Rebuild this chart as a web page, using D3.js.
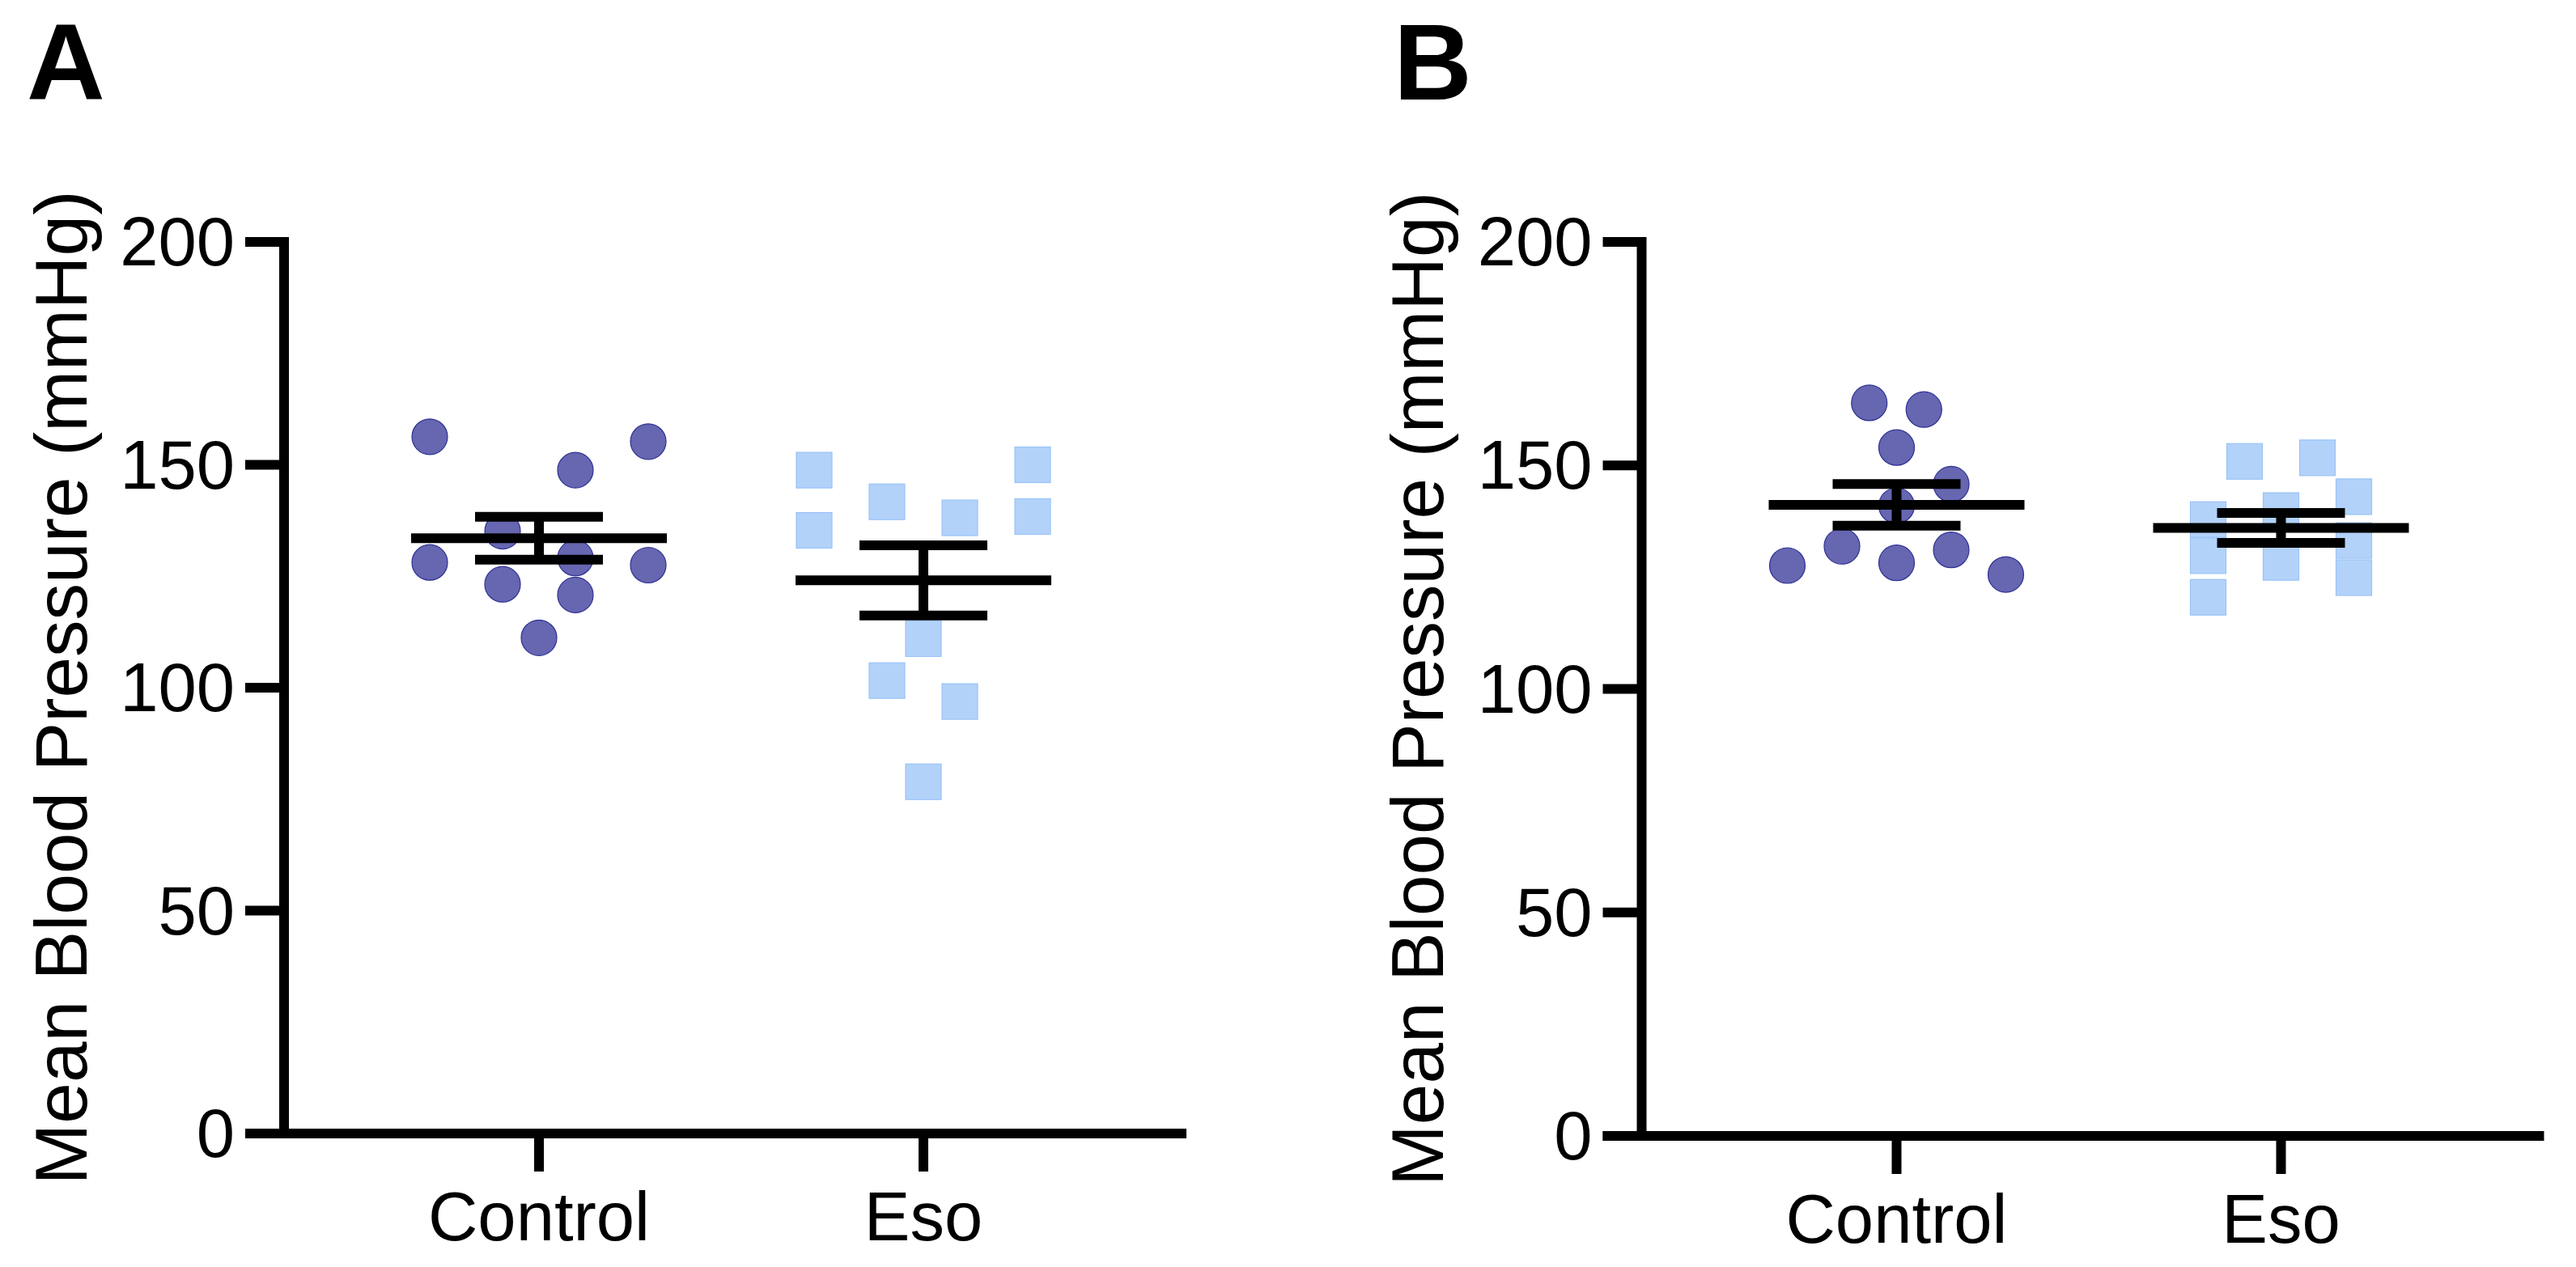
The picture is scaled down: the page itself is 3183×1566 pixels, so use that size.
<!DOCTYPE html>
<html>
<head>
<meta charset="utf-8">
<script src="https://cdn.jsdelivr.net/npm/d3@7"></script>
<style>
  html, body { margin: 0; padding: 0; background: #fff; }
  svg { display: block; }
  text { font-family: "Liberation Sans", Arial, sans-serif; fill: #000; }
</style>
</head>
<body>
<svg id="chart" width="3183" height="1566"></svg>
<script>
// ---------- data ----------
const categories = ["Control", "Eso"];
const yTickValues = [0, 50, 100, 150, 200];
const yTitle = "Mean Blood Pressure (mmHg)";
const panelLabels = ["A", "B"];

// Panel A
const controlA = [156.3, 155.2, 148.8, 135.1, 128.1, 129.1, 127.5, 123.2, 120.8, 111.2];
const controlA_col = [-3, 3, 1, -1, -3, 1, 3, -1, 1, 0];
const esoA = [148.8, 135.3, 141.7, 138.1, 150.0, 138.4, 111.0, 101.6, 96.9, 78.9];
const esoA_col = [-3, -3, -1, 1, 3, 3, 0, -1, 1, 0];

// Panel B
const controlB = [164.0, 162.5, 154.0, 145.8, 141.0, 131.9, 127.6, 128.2, 131.1, 125.6];
const controlB_col = [-0.75, 0.75, 0, 1.5, 0, -1.5, -3, 0, 1.5, 3];
const esoB = [150.9, 151.7, 143.0, 137.9, 139.9, 129.8, 133.2, 128.3, 124.9, 120.5];
const esoB_col = [-1, 1, 2, -2, 0, -2, 2, 0, 2, -2];

// ---------- layout / style ----------
const svg = d3.select("#chart");
svg.append("rect").attr("width", 3183).attr("height", 1566).attr("fill", "#fff");

const LW = 12;          // line width
const TICK = 48;        // tick length
const MARK = 44;        // marker size (diameter / side)
const circleFill = "#6666b1", circleStroke = "#2e3192";
const squareFill = "#b3d2f9", squareStroke = "#99c3f7";

const panels = [
  { label: panelLabels[0], labelX: 33, axisX: 351, yTop: 299, yBot: 1401, titleX: 107,
    groups: [ {vals: controlA, cols: controlA_col, shape: "circle"},
              {vals: esoA, cols: esoA_col, shape: "square"} ] },
  { label: panelLabels[1], labelX: 1722, axisX: 2028.5, yTop: 299, yBot: 1404, titleX: 1783,
    groups: [ {vals: controlB, cols: controlB_col, shape: "circle"},
              {vals: esoB, cols: esoB_col, shape: "square"} ] }
];

panels.forEach(p => {
  const g = svg.append("g");
  const y = d3.scaleLinear().domain([0, 200]).range([p.yBot, p.yTop]);
  const x = d3.scalePoint().domain(categories).range([p.axisX + 315, p.axisX + 790]);
  const xEnd = p.axisX + 1115;

  // panel letter
  g.append("text").attr("x", p.labelX).attr("y", 123)
    .attr("font-size", 134).attr("font-weight", "bold").text(p.label);

  // y axis title
  g.append("text")
    .attr("transform", `translate(${p.titleX},${(p.yTop + p.yBot) / 2}) rotate(-90)`)
    .attr("text-anchor", "middle").attr("font-size", 91).text(yTitle);

  // y axis line
  g.append("line").attr("x1", p.axisX).attr("x2", p.axisX)
    .attr("y1", y(200) - LW / 2).attr("y2", y(0))
    .attr("stroke", "#000").attr("stroke-width", LW);
  // x axis line
  g.append("line").attr("x1", p.axisX - TICK).attr("x2", xEnd)
    .attr("y1", y(0)).attr("y2", y(0))
    .attr("stroke", "#000").attr("stroke-width", LW);

  // y ticks + labels
  yTickValues.forEach(v => {
    g.append("line").attr("x1", p.axisX - TICK).attr("x2", p.axisX)
      .attr("y1", y(v)).attr("y2", y(v))
      .attr("stroke", "#000").attr("stroke-width", LW);
    g.append("text").attr("x", p.axisX - TICK - 13).attr("y", y(v) + 29)
      .attr("text-anchor", "end").attr("font-size", 85).text(v);
  });

  // x ticks + labels
  categories.forEach(c => {
    g.append("line").attr("x1", x(c)).attr("x2", x(c))
      .attr("y1", y(0)).attr("y2", y(0) + 47)
      .attr("stroke", "#000").attr("stroke-width", LW);
    g.append("text").attr("x", x(c)).attr("y", y(0) + 132)
      .attr("text-anchor", "middle").attr("font-size", 85).text(c);
  });

  // points
  p.groups.forEach((grp, gi) => {
    const cx = x(categories[gi]);
    const pts = grp.vals.map((v, i) => ({ v, col: grp.cols[i] }));
    if (grp.shape === "circle") {
      g.selectAll(null).data(pts).enter().append("circle")
        .attr("cx", d => cx + d.col * (MARK + 1))
        .attr("cy", d => y(d.v))
        .attr("r", MARK / 2)
        .attr("fill", circleFill).attr("stroke", circleStroke).attr("stroke-width", 1.2);
    } else {
      g.selectAll(null).data(pts).enter().append("rect")
        .attr("x", d => cx + d.col * (MARK + 1) - MARK / 2)
        .attr("y", d => y(d.v) - MARK / 2)
        .attr("width", MARK).attr("height", MARK)
        .attr("fill", squareFill).attr("stroke", squareStroke).attr("stroke-width", 1.2);
    }
  });

  // mean +/- SEM
  p.groups.forEach((grp, gi) => {
    const cx = x(categories[gi]);
    const m = d3.mean(grp.vals);
    const sem = d3.deviation(grp.vals) / Math.sqrt(grp.vals.length);
    const eb = g.append("g").attr("stroke", "#000").attr("stroke-width", LW);
    eb.append("line").attr("x1", cx - 158).attr("x2", cx + 158).attr("y1", y(m)).attr("y2", y(m));
    eb.append("line").attr("x1", cx).attr("x2", cx).attr("y1", y(m + sem)).attr("y2", y(m - sem));
    eb.append("line").attr("x1", cx - 79).attr("x2", cx + 79).attr("y1", y(m + sem)).attr("y2", y(m + sem));
    eb.append("line").attr("x1", cx - 79).attr("x2", cx + 79).attr("y1", y(m - sem)).attr("y2", y(m - sem));
  });
});
</script>
</body>
</html>
